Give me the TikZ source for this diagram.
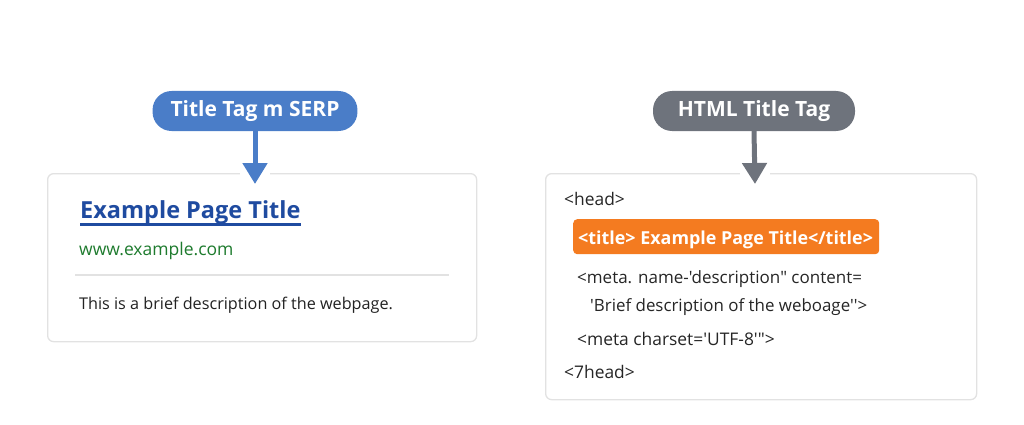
\documentclass[tikz,border=0pt]{standalone}
\usepackage{fontspec}
\setmainfont[Ligatures=TeXOff]{Open Sans}
\usetikzlibrary{arrows.meta}
\definecolor{pillblue}{HTML}{4A7DC8}
\definecolor{pillgray}{HTML}{6E737C}
\definecolor{linkblue}{HTML}{1F4BA0}
\definecolor{urlgreen}{HTML}{1E7B2E}
\definecolor{tagorange}{HTML}{F47B20}
\definecolor{boxline}{HTML}{E2E2E2}
\definecolor{txt}{HTML}{222222}
\definecolor{codetxt}{HTML}{262626}
\tikzset{
  pill/.style={rounded corners=19pt, minimum height=40pt, inner xsep=18pt, text=white,
    font=\bfseries\fontsize{21}{24}\selectfont},
  card/.style={draw=boxline, line width=1.3pt, rounded corners=6pt, fill=white, anchor=north west},
  pointer/.style={line width=5pt, -{Triangle[width=24pt,length=21pt]}},
  txtline/.style={anchor=base west, inner sep=0pt, text=codetxt, font=\fontsize{17.4}{20}\selectfont},
}
\begin{document}
\begin{tikzpicture}[x=1pt,y=-1pt]
\useasboundingbox (0,0) rectangle (1024,425);
% left card
\node[card, minimum width=429pt, minimum height=168pt] (b1) at (47,173) {};
\node[pill, fill=pillblue, minimum width=204pt] (p1) at (255,111) {Title Tag m SERP};
\coordinate (t1) at (255,184);
\draw[white, line width=4pt] (240,173) -- (270,173);
\draw[pointer, pillblue] (p1.south) -- (t1);
\node[anchor=base west, inner sep=0pt, text=linkblue, font=\bfseries\fontsize{23.5}{28}\selectfont] (title) at (80,218) {Example Page Title};
\draw[linkblue, line width=2.4pt] (80,224.5) -- (301,224.5);
\node[anchor=base west, inner sep=0pt, text=urlgreen, font=\fontsize{17.5}{20}\selectfont] (url) at (79,255) {www.example.com};
\draw[boxline, line width=1.6pt] (75,275) -- (449,275);
\node[anchor=base west, inner sep=0pt, text=txt, font=\fontsize{16.2}{19}\selectfont] (desc) at (79,309) {This is a brief description of the webpage.};
% right card
\node[card, minimum width=431pt, minimum height=226pt] (b2) at (545,173) {};
\node[pill, fill=pillgray, minimum width=202pt] (p2) at (754,111) {HTML Title Tag};
\coordinate (t2) at (755,184);
\draw[white, line width=4pt] (740,173) -- (770,173);
\draw[pointer, pillgray] (p2.south) -- (t2);
\node[txtline] (head) at (564,205) {<head>};
\node[fill=tagorange, rounded corners=4pt, minimum width=306pt, minimum height=35pt, anchor=north west] (tbox) at (573,219) {};
\node[anchor=base west, inner sep=0pt, text=white, font=\bfseries\fontsize{17.9}{20}\selectfont] (ttl) at (578,244) {<title> Example Page Title</title>};
\node[txtline, font=\fontsize{17}{20}\selectfont] (meta1) at (577,283) {<meta. name-'description" content=};
\node[txtline, font=\fontsize{16.9}{20}\selectfont] (meta2) at (590,311) {'Brief description of the weboage''>};
\node[txtline] (meta3) at (577,345) {<meta charset='UTF-8'">};
\node[txtline] (endhead) at (564,378) {<7head>};
\end{tikzpicture}
\end{document}
